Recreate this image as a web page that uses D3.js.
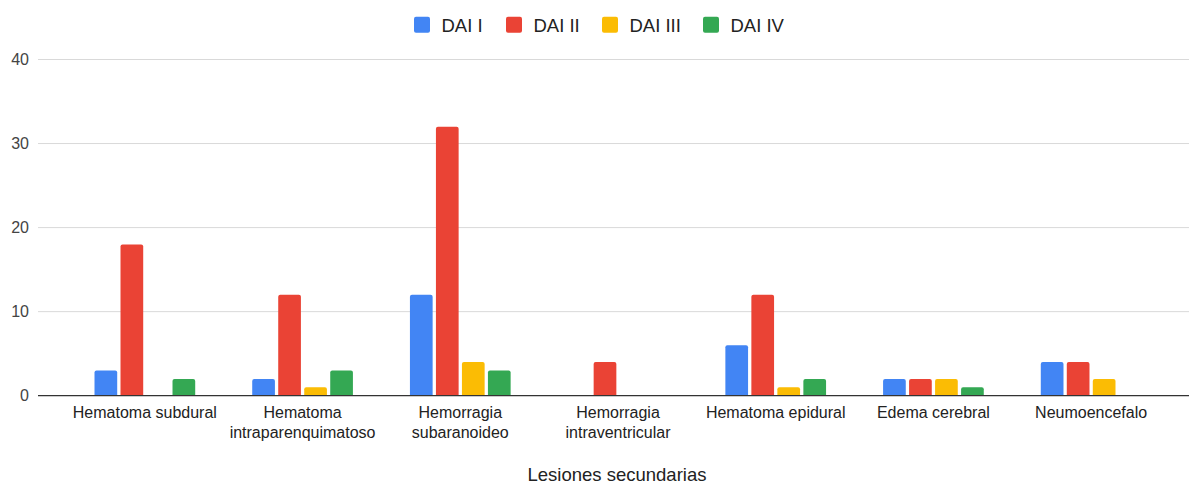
<!DOCTYPE html>
<html>
<head>
<meta charset="utf-8">
<script src="https://cdn.jsdelivr.net/npm/d3@7"></script>
<style>
  html, body { margin: 0; padding: 0; background: #fff; }
  svg { display: block; font-family: "Liberation Sans", Arial, sans-serif; }
</style>
</head>
<body>
<svg id="chart" width="1189" height="484"></svg>
<script>
const categories = [
  ["Hematoma subdural"],
  ["Hematoma", "intraparenquimatoso"],
  ["Hemorragia", "subaranoideo"],
  ["Hemorragia", "intraventricular"],
  ["Hematoma epidural"],
  ["Edema cerebral"],
  ["Neumoencefalo"]
];
const seriesNames = ["DAI I", "DAI II", "DAI III", "DAI IV"];
const colors = ["#4285F4", "#EA4335", "#FBBC04", "#34A853"];
const daiI   = [3, 2, 12, 0, 6, 2, 4];
const daiII  = [18, 12, 32, 4, 12, 2, 4];
const daiIII = [0, 1, 4, 0, 1, 2, 2];
const daiIV  = [2, 3, 3, 0, 2, 1, 0];
const yTicks = [0, 10, 20, 30, 40];
const xTitle = "Lesiones secundarias";

const seriesValues = [daiI, daiII, daiIII, daiIV];
const catKeys = categories.map(c => c.join(" "));

const svg = d3.select("#chart");
const gridLeft = 38, gridRight = 1189;

const x0 = d3.scaleBand().domain(catKeys).range([66, 1170]);
const groupW = 100.7;
const x1 = d3.scaleBand().domain(seriesNames).range([0, groupW]).paddingInner(0.127);
const y = d3.scaleLinear().domain([0, 40]).range([395.7, 59.5]);

// gridlines
svg.append("g").selectAll("line")
  .data(yTicks.filter(t => t !== 0))
  .join("line")
  .attr("x1", gridLeft).attr("x2", gridRight)
  .attr("y1", d => y(d)).attr("y2", d => y(d))
  .attr("stroke", "#d9d9d9").attr("stroke-width", 1);

// y tick labels
svg.append("g").selectAll("text")
  .data(yTicks)
  .join("text")
  .attr("x", 29).attr("y", d => y(d))
  .attr("dy", "0.35em")
  .attr("text-anchor", "end")
  .attr("font-size", 16)
  .attr("fill", "#444")
  .text(d => d);

// bars
const r = 2;
function barPath(x, yTop, w, yBase) {
  const h = yBase - yTop;
  if (h <= 0) return "";
  const rr = Math.min(r, h / 2);
  return `M${x},${yBase}V${yTop + rr}Q${x},${yTop} ${x + rr},${yTop}H${x + w - rr}Q${x + w},${yTop} ${x + w},${yTop + rr}V${yBase}Z`;
}
const barData = [];
catKeys.forEach((c, i) => {
  seriesNames.forEach((s, j) => {
    barData.push({ c, s, v: seriesValues[j][i], color: colors[j] });
  });
});
svg.append("g").selectAll("path")
  .data(barData.filter(d => d.v > 0))
  .join("path")
  .attr("fill", d => d.color)
  .attr("d", d => {
    const gx = x0(d.c) + (x0.bandwidth() - groupW) / 2 + x1(d.s);
    return barPath(gx, y(d.v), x1.bandwidth(), y(0));
  });

// baseline
svg.append("line")
  .attr("x1", gridLeft).attr("x2", gridRight)
  .attr("y1", y(0)).attr("y2", y(0))
  .attr("stroke", "#333").attr("stroke-width", 1.3);

// category labels
const lab = svg.append("g").selectAll("text")
  .data(categories)
  .join("text")
  .attr("x", (d, i) => x0(catKeys[i]) + x0.bandwidth() / 2)
  .attr("y", 418)
  .attr("text-anchor", "middle")
  .attr("font-size", 16)
  .attr("fill", "#222");
lab.each(function(d) {
  const t = d3.select(this);
  d.forEach((line, k) => {
    t.append("tspan")
      .attr("x", t.attr("x"))
      .attr("dy", k === 0 ? 0 : 20)
      .text(line);
  });
});

// x title
svg.append("text")
  .attr("x", 617).attr("y", 481)
  .attr("text-anchor", "middle")
  .attr("font-size", 18.5)
  .attr("fill", "#222")
  .text(xTitle);

// legend
const legendX = [414, 506, 602, 703];
const lg = svg.append("g").selectAll("g")
  .data(seriesNames)
  .join("g")
  .attr("transform", (d, i) => `translate(${legendX[i]},0)`);
lg.append("rect")
  .attr("x", 0).attr("y", 16.7).attr("width", 16).attr("height", 16)
  .attr("rx", 2)
  .attr("fill", (d, i) => colors[i]);
lg.append("text")
  .attr("x", 27.5).attr("y", 31.5)
  .attr("font-size", 18.5)
  .attr("fill", "#222")
  .text(d => d);
</script>
</body>
</html>
